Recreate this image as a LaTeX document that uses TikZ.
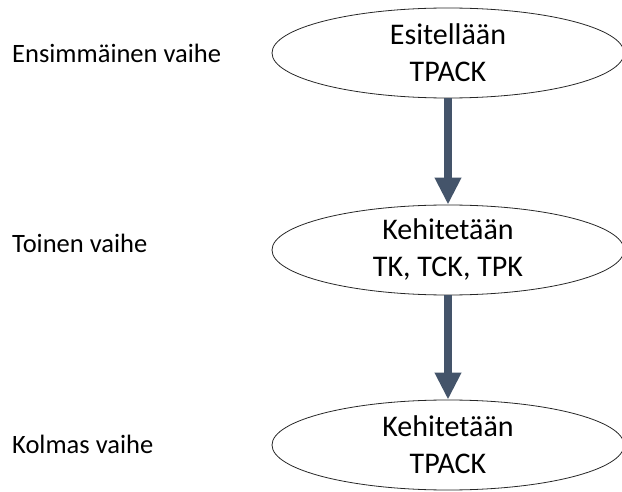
\documentclass[tikz,border=0pt]{standalone}
\usepackage{fontspec}
\setmainfont{Carlito}
\usetikzlibrary{arrows.meta, shapes.geometric}

\definecolor{slate}{HTML}{44546A}

\begin{document}
\begin{tikzpicture}[x=1pt, y=-1pt,
    phase/.style={ellipse, draw=black!85, line width=0.8pt, minimum width=352pt,
      minimum height=90pt, inner sep=0pt, align=center,
      font=\fontsize{30}{37}\selectfont},
    stage/.style={anchor=base west, inner sep=0pt, font=\fontsize{26.5}{31}\selectfont},
    flow/.style={draw=slate, line width=8pt, -{Triangle[width=25pt, length=27pt]}}]
  \useasboundingbox (0,0) rectangle (622,492);
  \node[phase] (P1) at (448, 53)  {Esitellään\\TPACK};
  \node[phase] (P2) at (448, 250) {Kehitetään\\TK, TCK, TPK};
  \node[phase] (P3) at (448, 445) {Kehitetään\\TPACK};
  \node[stage] (S1) at (12, 63)  {Ensimmäinen vaihe};
  \node[stage] (S2) at (12, 253) {Toinen vaihe};
  \node[stage] (S3) at (12, 453) {Kolmas vaihe};
  \draw[flow] (P1) -- (P2);
  \draw[flow] (P2) -- (P3);
\end{tikzpicture}
\end{document}
